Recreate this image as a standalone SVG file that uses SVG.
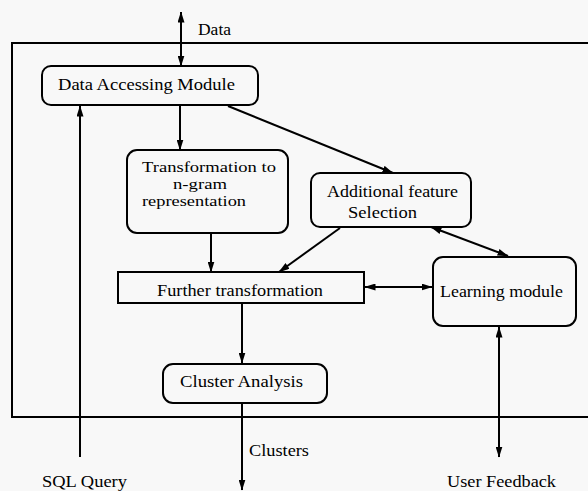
<svg xmlns="http://www.w3.org/2000/svg" width="588" height="491" viewBox="0 0 588 491">
<style>
  .box { fill: none; stroke: #000; stroke-width: 2; }
  .ln { fill: none; stroke: #000; stroke-width: 2; }
  text { font-family: "Liberation Serif", "Times New Roman", serif; font-size: 17.5px; fill: #000; }
  .tight { font-size: 15px; }
</style>
<defs>
  <marker id="ah" viewBox="0 0 11 7" markerWidth="11" markerHeight="7" refX="10.5" refY="3.5" orient="auto-start-reverse" markerUnits="userSpaceOnUse">
    <path d="M0,0 L11,3.5 L0,7 z" fill="#000"/>
  </marker>
</defs>
<rect width="588" height="491" fill="#f8f8f8"/>
<g id="frame">
  <path class="ln" d="M600,43 H12 V417 H600"/>
</g>
<g id="connectors">
  <line class="ln" x1="181" y1="12" x2="181" y2="66" marker-start="url(#ah)" marker-end="url(#ah)"/>
  <line class="ln" x1="80" y1="457" x2="80" y2="106" marker-end="url(#ah)"/>
  <line class="ln" x1="180" y1="105" x2="180" y2="150" marker-end="url(#ah)"/>
  <line class="ln" x1="228" y1="106" x2="393" y2="173" marker-end="url(#ah)"/>
  <line class="ln" x1="211" y1="233" x2="211" y2="272" marker-end="url(#ah)"/>
  <line class="ln" x1="340" y1="228" x2="279" y2="272" marker-end="url(#ah)"/>
  <line class="ln" x1="431" y1="227" x2="508" y2="256" marker-start="url(#ah)" marker-end="url(#ah)"/>
  <line class="ln" x1="365" y1="287" x2="432" y2="287" marker-start="url(#ah)" marker-end="url(#ah)"/>
  <line class="ln" x1="242" y1="303" x2="242" y2="363" marker-end="url(#ah)"/>
  <line class="ln" x1="242" y1="403" x2="242" y2="490" marker-end="url(#ah)"/>
  <line class="ln" x1="499" y1="327" x2="499" y2="457" marker-start="url(#ah)" marker-end="url(#ah)"/>
</g>
<g id="data-label"><text x="198" y="35" textLength="33" lengthAdjust="spacingAndGlyphs">Data</text></g>
<g id="dam">
  <rect class="box" x="42" y="66" width="216" height="39" rx="9"/>
  <text x="58" y="90" textLength="177" lengthAdjust="spacingAndGlyphs">Data Accessing Module</text>
</g>
<g id="transformation">
  <rect class="box" x="127" y="150" width="161" height="83" rx="10"/>
  <text class="tight" x="142" y="172" textLength="134" lengthAdjust="spacingAndGlyphs">Transformation to</text>
  <text class="tight" x="173" y="189" textLength="54" lengthAdjust="spacingAndGlyphs">n-gram</text>
  <text class="tight" x="142" y="206" textLength="104" lengthAdjust="spacingAndGlyphs">representation</text>
</g>
<g id="afs">
  <rect class="box" x="311" y="173" width="160" height="54" rx="9"/>
  <text x="327" y="197" textLength="131" lengthAdjust="spacingAndGlyphs">Additional feature</text>
  <text x="348" y="218" textLength="69" lengthAdjust="spacingAndGlyphs">Selection</text>
</g>
<g id="further">
  <rect class="box" x="118" y="272" width="246" height="31"/>
  <text x="157" y="296" textLength="166" lengthAdjust="spacingAndGlyphs">Further transformation</text>
</g>
<g id="learning">
  <rect class="box" x="433" y="257" width="143" height="69" rx="10"/>
  <text x="440" y="297" textLength="123" lengthAdjust="spacingAndGlyphs">Learning module</text>
</g>
<g id="cluster">
  <rect class="box" x="163" y="364" width="164" height="39" rx="10"/>
  <text x="180" y="387" textLength="123" lengthAdjust="spacingAndGlyphs">Cluster Analysis</text>
</g>
<g id="labels">
  <text x="249" y="456" textLength="60" lengthAdjust="spacingAndGlyphs">Clusters</text>
  <text x="42" y="487" textLength="85" lengthAdjust="spacingAndGlyphs">SQL Query</text>
  <text x="447" y="487" textLength="109" lengthAdjust="spacingAndGlyphs">User Feedback</text>
</g>
</svg>
